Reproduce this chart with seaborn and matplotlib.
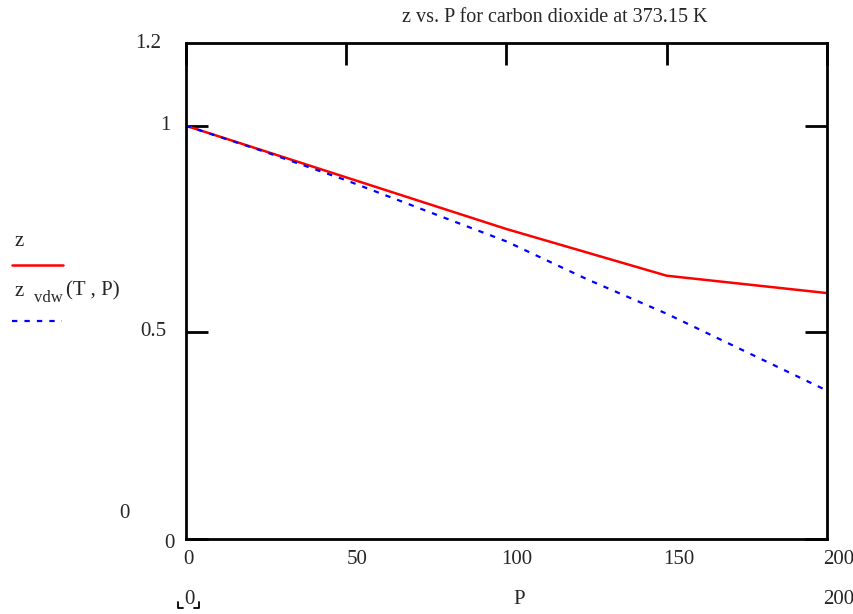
import numpy as np
import pandas as pd
import matplotlib
matplotlib.use("Agg")
import matplotlib.pyplot as plt
from matplotlib.lines import Line2D
import seaborn as sns

# data
p_data = [0, 50, 100, 150, 200]
z_data = [1.0, 0.875, 0.750, 0.637, 0.595]

p_vdw = [0, 25, 50, 75, 100, 125, 150, 175, 200]
z_vdw = [1.0, 0.936, 0.868, 0.794, 0.720, 0.629, 0.545, 0.452, 0.359]

x_ticks = [0, 50, 100, 150, 200]
y_ticks = [0, 0.5, 1]

sns.set_style("white")
plt.rcParams['font.family'] = ['Liberation Serif', 'DejaVu Serif']

W, H = 854, 614
fig = plt.figure(figsize=(W / 100, H / 100), dpi=100)
ax = fig.add_axes([185.7 / W, 1 - 539 / H, (827 - 185.7) / W, (539 - 43) / H])

df_z = pd.DataFrame({'P': p_data, 'z': z_data})
df_v = pd.DataFrame({'P': p_vdw, 'z': z_vdw})
sns.lineplot(data=df_z, x='P', y='z', ax=ax, color='#ff0000', linewidth=1.8)
sns.lineplot(data=df_v, x='P', y='z', ax=ax, color='#0000ff', linewidth=1.6,
             linestyle=(0, (2.4, 3.2)))

ax.set_xlim(0, 200)
ax.set_ylim(0, 1.2)
ax.set_xticks(x_ticks)
ax.set_yticks(y_ticks)
ax.set_xticklabels([])
ax.set_yticklabels([])
ax.set_xlabel('')
ax.set_ylabel('')
# Mathcad style: inward ticks on top, left and right only
ax.tick_params(direction='in', length=16, width=2, top=True, right=True,
               bottom=False, left=True, color='black')
for s in ax.spines.values():
    s.set_linewidth(2)
    s.set_color('black')


def ftext(x, y, s, size=15, ha='center', va='center', **kw):
    fig.text(x / W, 1 - y / H, s, fontsize=size, ha=ha, va=va, **kw)


# title
ftext(555, 18, 'z vs. P for carbon dioxide at 373.15 K', size=14.5)

# x tick labels
for t, xp in zip(x_ticks, [188, 357, 517, 679, 839]):
    ftext(xp, 560, str(t))
# x axis limits and name
ftext(189, 600, '0')
ftext(519, 600, 'P')
ftext(839, 600, '200')
fig.add_artist(Line2D([178 / W, 178 / W, 183 / W], [1 - 602 / H, 1 - 608 / H, 1 - 608 / H],
                      color='black', lw=1.3))
fig.add_artist(Line2D([199 / W, 199 / W, 194 / W], [1 - 602 / H, 1 - 608 / H, 1 - 608 / H],
                      color='black', lw=1.3))

# y tick labels
ftext(148, 43, '1.2')
ftext(165, 125, '1')
ftext(153, 331, '0.5')
ftext(124, 513, '0')
ftext(169, 543, '0')

# legend on the left
ftext(15, 242, 'z', ha='left')
fig.add_artist(Line2D([12 / W, 63 / W], [1 - 265 / H, 1 - 265 / H], color='#ff0000', lw=1.8))
ftext(15, 291, 'z', ha='left')
ftext(34, 298, 'vdw', size=12, ha='left')
ftext(66, 291, '(T , P)', ha='left')
fig.add_artist(Line2D([12 / W, 62 / W], [1 - 321 / H, 1 - 321 / H], color='#0000ff', lw=1.6,
                      linestyle=(0, (2.4, 3.2))))

fig.savefig('out.png', dpi=100)
